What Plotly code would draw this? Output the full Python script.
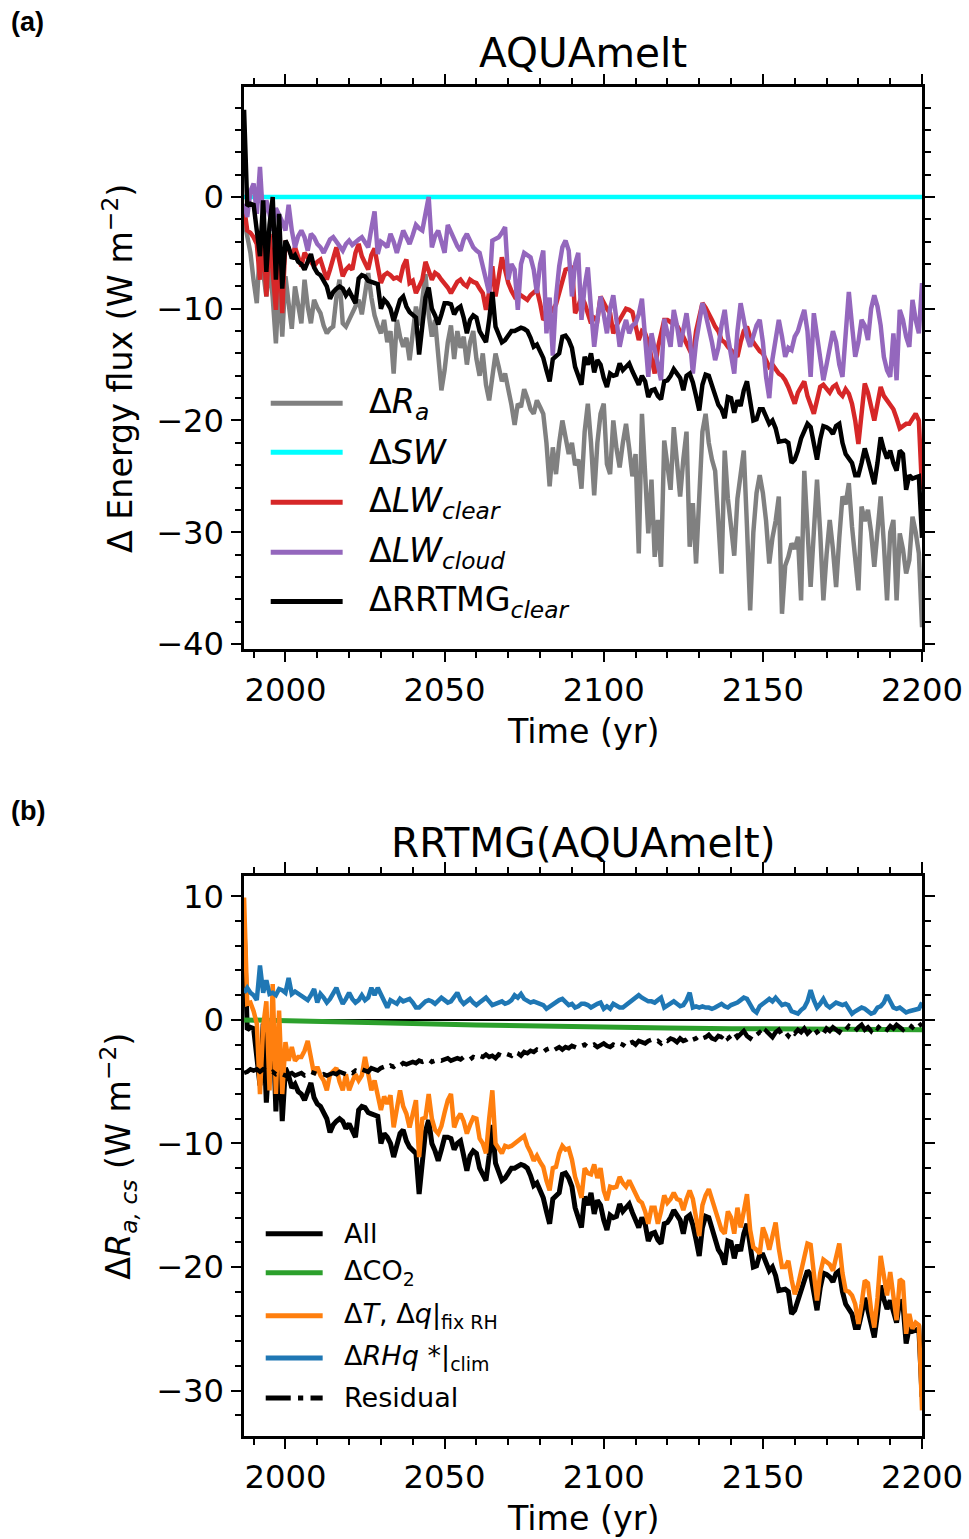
import plotly.graph_objects as go

# ---------------------------------------------------------------- data
years = list(range(1987, 2201))

# panel (a): AQUAmelt energy-flux anomalies (W m-2)
delta_ra = [
    -2.0, -3.5, -5.0,
    -7.5, -9.5, -4.5, -7.0, -8.9, -6.0, -9.0, -13.1, -7.5, -12.5,
    -7.1, -9.5, -11.8, -8.0, -9.6, -11.3, -7.4, -9.8, -11.3, -9.2,
    -9.9, -10.4, -11.5, -12.2, -11.8, -11.6, -9.0, -7.4, -11.3, -11.6,
    -11.0, -10.4, -9.8, -9.2, -10.5, -8.5, -6.8, -9.0, -10.6, -11.5,
    -12.2, -11.0, -13.0, -12.0, -15.8, -11.0, -12.5, -13.4, -12.6, -14.6,
    -12.0, -9.8, -11.5, -9.0, -6.9, -10.5, -12.5, -11.0, -14.5, -17.3,
    -15.5, -13.0, -11.5, -14.5, -12.0, -13.5, -12.5, -15.0, -13.0, -12.0,
    -14.5, -16.0, -14.0, -16.8, -18.2, -16.4, -14.0, -15.2, -16.5, -15.8,
    -17.0, -18.6, -20.4, -18.5, -18.8, -17.2, -18.0, -19.0, -19.4, -18.2,
    -18.8, -19.4, -22.0, -25.9, -22.4, -24.8, -22.0, -20.0, -21.5, -23.0,
    -22.0, -24.0, -23.5, -26.1, -21.0, -18.5, -22.0, -26.7, -22.0, -19.4,
    -18.5, -23.9, -24.8, -20.0, -22.5, -24.2, -22.0, -20.3, -22.5, -25.0,
    -23.0, -31.9, -19.4, -24.0, -30.1, -25.3, -32.2, -28.9, -33.1, -21.8,
    -24.0, -26.2, -20.6, -23.5, -26.8, -23.5, -21.0, -31.3, -27.4, -32.8,
    -26.0, -21.0, -19.4, -22.0, -23.5, -24.5, -29.0, -33.7, -22.7, -27.0,
    -29.5, -32.1, -27.0, -24.5, -22.7, -29.5, -37.0, -30.0, -26.5, -24.9,
    -26.5, -29.0, -32.8, -30.5, -29.0, -26.8, -37.3, -33.0, -32.2, -31.0,
    -31.5, -30.4, -36.1, -24.5, -29.0, -34.9, -30.0, -25.3, -30.0, -36.1,
    -32.0, -28.9, -31.5, -34.9, -30.5, -26.8, -27.5, -25.6, -29.5, -32.0,
    -35.2, -27.7, -29.0, -28.0, -30.0, -33.1, -29.5, -26.8, -31.0, -36.1,
    -30.0, -28.9, -36.1, -30.1, -31.5, -33.7, -32.5, -28.6, -30.0, -31.9,
    -38.5,
]

sw_years = [1987, 2200]
delta_sw = [0.0, 0.0]

delta_lw_clear = [
    -0.9, -3.0, -3.2,
    -3.6, -4.2, -7.4, -3.0, -8.9, -3.3, -7.0, -10.1, -3.9, -10.4,
    -3.9, -4.6, -5.3, -4.5, -5.5, -6.2, -5.0, -5.4, -5.9, -6.2,
    -5.8, -5.6, -6.5, -7.4, -6.5, -5.5, -4.5, -5.8, -7.1, -6.5,
    -6.2, -6.5, -5.0, -4.2, -5.3, -5.9, -6.5, -5.2, -4.6, -6.2,
    -7.7, -7.0, -6.8, -7.0, -7.3, -7.2, -7.4, -6.2, -5.6, -7.7,
    -7.5, -8.6, -8.0, -7.4, -5.8, -6.5, -7.4, -6.8, -7.0, -7.4,
    -7.7, -8.1, -8.6, -8.0, -7.6, -7.4, -7.8, -8.0, -7.4, -7.6,
    -7.7, -8.2, -8.6, -10.1, -8.5, -6.2, -8.9, -7.2, -5.4, -6.5,
    -7.7, -8.4, -8.9, -8.6, -8.8, -9.0, -9.2, -8.8, -8.5, -8.3,
    -9.5, -11.0, -10.7, -10.4, -10.1, -9.6, -8.6, -7.5, -6.5, -6.4,
    -6.2, -10.4, -9.8, -8.9, -9.5, -10.4, -11.3, -10.8, -11.0, -8.9,
    -9.5, -10.0, -10.4, -12.2, -11.5, -11.0, -10.5, -10.0, -10.1, -10.3,
    -11.5, -12.8, -12.0, -12.2, -13.0, -14.3, -15.8, -13.5, -12.0, -11.0,
    -11.0, -11.2, -11.0, -11.6, -12.0, -12.5, -13.1, -13.6, -14.3, -12.0,
    -10.5, -9.5, -9.9, -10.4, -11.0, -11.6, -12.0, -12.8, -13.0, -13.4,
    -13.7, -14.0, -14.3, -13.0, -12.0, -11.6, -12.5, -13.0, -13.4, -13.8,
    -14.0, -14.6, -15.2, -15.0, -15.4, -15.8, -16.0, -16.4, -17.0, -17.8,
    -18.5, -17.5, -17.0, -16.5, -17.8, -18.6, -19.4, -18.2, -17.0, -16.8,
    -17.2, -17.5, -17.0, -16.8, -17.5, -17.8, -17.2, -17.6, -18.5, -20.0,
    -22.1, -19.0, -16.7, -17.5, -18.8, -20.0, -18.5, -17.0, -17.8, -18.2,
    -18.5, -19.0, -19.8, -20.7, -20.5, -20.3, -20.3, -19.8, -19.4, -20.0,
    -26.2,
]

delta_lw_cloud = [
    -0.6, -1.8, 0.5,
    1.2, -1.5, 2.7, -2.1, -0.3, -1.5, -3.0, -1.0, -1.5, -2.2,
    -3.0, -0.7, -3.0, -4.5, -3.5, -3.0, -3.6, -4.8, -3.3, -3.6,
    -4.2, -4.5, -5.0, -4.4, -3.8, -3.6, -4.0, -4.4, -4.8, -4.2,
    -3.9, -4.3, -4.0, -3.8, -3.6, -4.0, -4.5, -2.8, -1.3, -5.1,
    -4.0, -4.2, -4.5, -3.3, -4.0, -5.0, -4.0, -3.0, -3.6, -4.2,
    -3.4, -2.5, -2.8, -3.0, -1.5, 0.0, -4.5, -3.5, -3.0, -4.0,
    -5.0, -2.5, -3.2, -3.9, -4.4, -4.8, -3.8, -3.3, -3.9, -4.5,
    -4.8, -5.0, -6.2, -7.5, -8.6, -3.9, -3.8, -3.6, -3.2, -2.7,
    -7.4, -6.0, -6.5, -10.1, -6.0, -5.0, -5.2, -5.4, -6.5, -8.6,
    -6.0, -4.8, -12.2, -9.0, -14.2, -9.0, -6.2, -4.5, -3.9, -4.8,
    -8.9, -6.0, -5.0, -11.0, -8.0, -6.3, -10.0, -13.4, -11.0, -8.9,
    -10.5, -12.2, -10.0, -8.8, -11.0, -13.4, -12.0, -11.0, -12.2, -11.5,
    -11.3, -10.5, -9.1, -12.5, -16.1, -12.2, -13.5, -15.0, -16.4, -10.9,
    -12.0, -13.4, -10.1, -11.5, -13.4, -12.0, -10.4, -12.5, -15.8, -13.0,
    -11.0, -9.5, -10.5, -11.6, -13.0, -14.6, -13.5, -11.5, -10.1, -12.5,
    -14.5, -15.8, -12.0, -9.5, -11.0, -12.5, -13.4, -12.5, -11.5, -11.0,
    -13.0, -16.1, -18.0, -14.5, -12.5, -11.0, -12.5, -14.3, -13.5, -13.7,
    -12.5, -12.0, -11.0, -10.1, -12.0, -16.1, -10.4, -12.5, -14.5, -16.4,
    -15.0, -13.5, -12.0, -13.0, -15.0, -16.1, -12.0, -8.5, -11.5, -14.3,
    -13.0, -11.0, -11.5, -12.8, -10.0, -8.8, -9.8, -11.5, -14.3, -15.5,
    -16.1, -12.2, -16.4, -10.1, -11.0, -12.5, -13.4, -9.2, -11.0, -12.2,
    -7.7,
]

# clear-sky RRTMG total; shown in both panels
rrtmg_clear = [
    7.8, -0.8, -0.6,
    -0.7, -3.0, -5.3, -0.3, -6.7, -2.5, 0.0, -7.4, -1.5, -8.2,
    -3.9, -4.5, -5.5, -5.2, -5.8, -6.0, -6.5, -5.8, -5.1, -6.3,
    -6.8, -7.0, -7.5, -8.0, -9.1, -8.5, -8.2, -8.0, -8.2, -8.8,
    -8.4, -8.9, -9.5, -7.3, -7.0, -7.1, -7.5, -7.6, -7.7, -7.8,
    -10.0, -9.2, -9.5, -10.0, -11.1, -10.0, -9.2, -8.9, -9.8, -10.3,
    -10.5, -10.8, -14.1, -11.2, -9.0, -8.1, -10.0, -10.6, -11.4, -10.5,
    -9.5, -9.5, -9.6, -10.5, -10.0, -9.8, -10.8, -12.2, -11.0, -10.6,
    -10.8, -12.0, -12.5, -13.0, -11.0, -8.5, -11.6, -12.4, -13.0, -12.8,
    -12.3, -12.0, -12.0, -11.8, -11.7, -11.8, -12.0, -12.6, -13.4, -13.2,
    -13.8, -14.4, -15.5, -16.5, -14.5, -14.2, -14.0, -12.5, -12.4, -12.8,
    -13.5, -15.2, -16.0, -16.8, -14.3, -15.0, -14.0, -15.7, -14.6, -15.0,
    -16.2, -17.0, -15.8, -16.0, -15.9, -14.9, -15.5, -15.2, -14.9, -15.6,
    -16.2, -16.8, -16.0, -16.5, -17.9, -17.3, -17.2, -17.8, -18.1, -16.5,
    -16.4, -16.0, -15.4, -15.8, -16.2, -17.3, -16.0, -15.8, -16.6, -17.8,
    -19.1, -16.8, -15.9, -16.0, -16.8, -17.5, -18.6, -19.0, -19.8, -17.9,
    -18.0, -19.3, -18.2, -18.7, -17.3, -16.5, -18.5, -20.0, -19.9, -19.0,
    -19.0, -19.6, -20.3, -20.0, -20.7, -21.9, -21.8, -21.8, -22.0, -23.8,
    -23.5, -22.7, -21.6, -20.8, -20.3, -20.6, -22.0, -23.5, -21.7, -20.5,
    -20.6, -20.8, -21.2, -20.5, -20.3, -22.0, -23.0, -23.5, -23.8, -24.9,
    -24.9, -23.8, -22.5, -23.5, -24.8, -25.7, -23.8, -21.5, -22.6, -23.4,
    -22.7, -23.8, -24.5, -22.7, -23.0, -26.2, -24.9, -25.2, -25.1, -25.0,
    -30.5,
]

# panel (b): RRTMG decomposition (W m-2)
co2_years = [1987, 2000, 2020, 2040, 2060, 2080, 2100, 2120, 2140, 2160, 2180, 2200]
delta_co2 = [0.0, -0.05, -0.15, -0.3, -0.42, -0.52, -0.6, -0.66, -0.71, -0.75, -0.78, -0.8]

delta_t_q_fixrh = [
    9.9, 1.3, 1.4,
    0.7, -0.3, -6.0, -0.5, 1.5, -5.7, 2.9, -6.0, 0.75, -6.0,
    -1.8, -3.3, -2.2, -3.3, -3.0, -3.0, -2.5, -1.7, -3.0, -4.4,
    -3.8, -4.5, -4.9, -5.7, -4.4, -4.2, -3.9, -5.0, -5.7, -4.4,
    -5.7, -5.0, -4.4, -4.9, -4.5, -3.0, -4.5, -5.7, -4.9, -6.0,
    -7.3, -6.2, -6.8, -6.1, -8.7, -7.2, -5.7, -7.0, -7.6, -8.7,
    -7.4, -6.5, -11.1, -8.0, -7.9, -6.0, -8.0, -8.9, -9.2, -8.6,
    -7.5, -6.5, -6.0, -8.7, -8.0, -7.6, -8.2, -9.2, -8.5, -7.9,
    -8.0, -9.6, -10.0, -10.8, -8.0, -5.7, -10.0, -10.4, -10.8, -10.2,
    -10.3, -10.2, -10.0, -9.8, -9.6, -9.4, -10.2, -10.7, -11.4, -11.0,
    -11.5, -11.9, -13.0, -13.8, -12.0, -11.9, -10.8, -10.2, -10.5, -10.4,
    -11.3, -12.7, -13.5, -14.4, -12.0, -12.4, -12.5, -11.7, -12.8, -12.0,
    -13.8, -14.6, -13.5, -13.6, -13.5, -12.7, -13.2, -13.5, -13.0, -13.6,
    -14.0, -14.6, -14.8, -15.5, -16.5, -15.2, -15.2, -16.5, -15.5, -14.2,
    -14.8, -14.5, -14.0, -14.5, -14.6, -15.4, -14.5, -13.8, -14.5, -16.0,
    -17.5, -15.0, -14.2, -13.7, -14.5, -15.2, -16.2, -17.0, -17.3, -15.5,
    -16.0, -17.3, -15.2, -16.8, -15.5, -14.1, -17.0, -18.4, -18.6, -18.9,
    -16.8, -17.5, -18.6, -17.5, -16.4, -18.5, -20.0, -20.0, -19.5, -21.0,
    -22.2, -21.5, -20.5, -19.2, -18.1, -18.2, -20.5, -22.7, -20.5, -19.4,
    -19.6, -19.8, -20.3, -19.2, -18.1, -20.5, -21.9, -22.0, -22.3, -23.0,
    -24.6, -23.0, -21.1, -21.3, -23.5, -24.9, -22.5, -19.1, -21.0, -22.3,
    -20.4, -22.5, -24.3, -21.0, -21.2, -25.4, -23.8, -25.0, -24.5, -24.7,
    -31.6,
]

delta_rhq_clim = [
    2.2, 2.6, 2.2,
    2.0, 1.6, 4.4, 2.2, 3.2, 2.1, 2.2, 2.0, 2.5, 2.4,
    2.2, 3.4, 2.1, 2.3, 2.1, 2.0, 1.8, 1.6, 2.0, 2.5,
    1.4, 2.1, 1.8, 1.4, 1.7, 2.1, 2.6, 1.9, 1.3, 1.7,
    2.2, 1.7, 1.4, 1.6, 2.0, 1.6, 1.8, 2.6, 2.0, 2.6,
    2.0, 1.5, 1.0, 1.6, 1.4, 1.3, 1.7, 1.5, 1.6, 1.7,
    1.4, 1.0, 1.0, 1.3, 1.5, 1.6, 1.5, 1.3, 1.5, 1.8,
    1.6, 1.4, 1.5, 1.8, 2.2, 1.6, 1.3, 1.5, 1.7, 1.4,
    1.2, 1.4, 1.6, 1.8, 1.5, 1.2, 1.3, 1.4, 1.5, 1.3,
    1.4, 1.6, 2.0, 1.8, 2.1, 1.7, 1.5, 1.4, 1.5, 1.4,
    1.3, 1.2, 0.9, 1.1, 1.3, 1.5, 1.6, 1.7, 1.4, 1.2,
    1.3, 1.0, 1.1, 1.3, 1.3, 1.2, 1.0, 1.2, 1.3, 1.4,
    0.9, 1.1, 0.9, 1.3, 1.1, 1.0, 1.0, 1.2, 1.3, 1.5,
    1.7, 2.0, 1.8, 1.6, 1.5, 1.5, 1.4, 1.6, 1.8, 1.0,
    1.2, 1.3, 1.5, 1.3, 1.1, 1.2, 1.6, 2.2, 1.0, 1.1,
    1.0, 1.1, 1.0, 1.0, 0.9, 1.0, 1.2, 1.3, 1.1, 1.0,
    1.2, 1.3, 1.4, 1.6, 1.8, 1.7, 1.2, 0.8, 0.6, 1.1,
    1.3, 1.5, 1.7, 1.5, 1.8, 1.5, 1.2, 1.3, 1.2, 0.7,
    0.6, 0.5, 0.8, 1.0, 1.5, 2.4, 1.6, 1.0, 1.3, 1.7,
    1.2, 1.0, 1.2, 1.4, 1.3, 1.2, 1.3, 0.9, 0.5, 0.7,
    0.9, 1.0, 0.9, 0.7, 0.5, 0.6, 1.0, 1.1, 1.4, 2.0,
    1.5, 1.0, 0.9, 1.0, 0.8, 0.6, 0.7, 0.75, 0.8, 0.9,
    1.4,
]

residual = [
    -4.3, -4.2, -4.0,
    -4.1, -4.0, -4.2, -4.0, -4.1, -4.3, -4.2, -4.4, -4.3, -4.4,
    -4.5, -4.4, -4.3, -4.5, -4.4, -4.3, -4.5, -4.4, -4.2, -4.3,
    -4.4, -4.5, -4.4, -4.5, -4.4, -4.3, -4.4, -4.2, -4.3, -4.4,
    -4.2, -4.3, -4.1, -4.2, -4.0, -4.1, -4.2, -3.9, -4.0, -4.1,
    -3.9, -3.8, -3.9, -3.7, -3.8, -3.6, -3.7, -3.5, -3.6, -3.5,
    -3.4, -3.5, -3.3, -3.4, -3.3, -3.2, -3.4, -3.3, -3.2, -3.3,
    -3.2, -3.1, -3.3, -3.2, -3.1, -3.2, -3.0, -3.1, -3.2, -3.0,
    -3.1, -2.9, -3.0, -2.8, -3.0, -2.9, -3.1, -2.8, -2.9, -2.7,
    -2.8, -2.9, -2.6, -2.7, -2.9, -2.6, -2.7, -2.5, -2.6, -2.4,
    -2.5, -2.6, -2.4, -2.3, -2.5, -2.3, -2.2, -2.4, -2.2, -2.3,
    -2.1, -2.2, -2.3, -2.1, -2.0, -2.2, -2.1, -2.0, -2.2, -2.0,
    -1.9, -2.1, -2.2, -2.0, -2.1, -1.9, -2.0, -2.2, -1.9, -1.8,
    -2.0, -1.7, -1.8, -1.9, -1.7, -1.6, -1.8, -1.7, -1.9, -1.6,
    -1.7, -1.5, -1.6, -1.8, -1.5, -1.7, -1.6, -1.4, -1.6, -1.5,
    -1.3, -1.5, -1.4, -1.2, -1.5, -1.6, -1.3, -1.4, -1.1, -1.5,
    -1.3, -1.0, -1.4, -1.2, -0.9, -1.3, -1.5, -1.1, -1.2, -1.0,
    -1.3, -0.9, -1.1, -1.4, -1.0, -0.8, -1.2, -1.0, -1.3, -0.9,
    -1.1, -0.8, -1.0, -0.7, -1.1, -0.9, -0.6, -1.0, -0.8, -1.1,
    -0.7, -0.9, -0.6, -0.8, -1.0, -0.6, -0.8, -0.5, -0.7, -0.9,
    -0.6, -0.4, -0.8, -0.6, -0.9, -0.5, -0.7, -0.4, -0.6, -0.8,
    -0.5, -0.7, -0.4, -0.6, -0.8, -0.5, -0.4, -0.6, -0.3, -0.5,
    -0.3,
]

for series in (delta_ra, delta_lw_clear, delta_lw_cloud, rrtmg_clear,
               delta_t_q_fixrh, delta_rhq_clim, residual):
    assert len(series) == len(years), len(series)

# ---------------------------------------------------------------- layout helpers
# positions are worked out on a 969 x 1539 design grid; the figure canvas
# itself is sized by FIG_W x FIG_H and everything scales with it
DW, DH = 969, 1539
FIG_W, FIG_H = 1009, 1554
K = FIG_W / DW                      # size factor for fonts, lines, ticks
FONT = "DejaVu Sans"


def fx(px):
    return px / DW


def fy(py):
    return 1 - py / DH


def s(v):
    return v * K


LW = s(4.3)
RESIDUAL_DASH = f"{s(24):.1f}px,{s(7):.1f}px,{s(5):.1f}px,{s(7):.1f}px"

X_RANGE = [1986.9, 2200]
PANEL_X = [fx(244), fx(923)]
PANEL_A_Y = [fy(648.7), fy(87.3)]
PANEL_B_Y = [fy(1435), fy(875)]

axis_style = dict(
    showline=True, linecolor="black", linewidth=s(2.5), mirror="allticks",
    ticks="outside", ticklen=s(10), tickwidth=s(2), tickcolor="black",
    showgrid=False, zeroline=False,
    tickfont=dict(family=FONT, size=s(31), color="black"),
)
minor_x = dict(ticks="outside", ticklen=s(6), tickwidth=s(1.5), tickcolor="black", dtick=10)
minor_y = dict(ticks="outside", ticklen=s(6), tickwidth=s(1.5), tickcolor="black", dtick=2)

fig = go.Figure()

# ---------------------------------------------------------------- panel (a)
panel_a = [
    ("ΔR_a", years, delta_ra, "#808080"),
    ("ΔSW", sw_years, delta_sw, "#00ffff"),
    ("ΔLW_clear", years, delta_lw_clear, "#d62728"),
    ("ΔLW_cloud", years, delta_lw_cloud, "#9467bd"),
    ("ΔRRTMG_clear", years, rrtmg_clear, "#000000"),
]
for name, xs, ys, color in panel_a:
    fig.add_trace(go.Scatter(x=xs, y=ys, mode="lines", name=name,
                             line=dict(color=color, width=LW),
                             xaxis="x", yaxis="y", showlegend=False))

# ---------------------------------------------------------------- panel (b)
panel_b = [
    ("All", years, rrtmg_clear, "#000000", "solid", s(4.8)),
    ("ΔCO2", co2_years, delta_co2, "#2ca02c", "solid", s(4.8)),
    ("ΔT, Δq|fix RH", years, delta_t_q_fixrh, "#ff7f0e", "solid", LW),
    ("ΔRHq*|clim", years, delta_rhq_clim, "#1f77b4", "solid", LW),
    ("Residual", years, residual, "#000000", RESIDUAL_DASH, LW),
]
for name, xs, ys, color, dash, width in panel_b:
    fig.add_trace(go.Scatter(x=xs, y=ys, mode="lines", name=name,
                             line=dict(color=color, width=width, dash=dash),
                             xaxis="x2", yaxis="y2", showlegend=False))

fig.update_layout(
    width=FIG_W, height=FIG_H, margin=dict(l=0, r=0, t=0, b=0),
    paper_bgcolor="white", plot_bgcolor="white",
    font=dict(family=FONT, color="black"),
    xaxis=dict(domain=PANEL_X, anchor="y", range=X_RANGE, tick0=2000, dtick=50,
               minor=minor_x, **axis_style),
    yaxis=dict(domain=PANEL_A_Y, anchor="x", range=[-40.46, 9.81], tick0=0, dtick=10,
               minor=minor_y, **axis_style),
    xaxis2=dict(domain=PANEL_X, anchor="y2", range=X_RANGE, tick0=2000, dtick=50,
                minor=minor_x, **axis_style),
    yaxis2=dict(domain=PANEL_B_Y, anchor="x2", range=[-33.67, 11.68], tick0=0, dtick=10,
                minor=minor_y, **{**axis_style, "zeroline": True},
                zerolinecolor="black", zerolinewidth=s(1.5)),
)

annotations = []
shapes = []


def text(x, y, label, size, xanchor="center", yanchor="middle", angle=0, family=FONT):
    annotations.append(dict(x=fx(x), y=fy(y), xref="paper", yref="paper", text=label,
                            showarrow=False, xanchor=xanchor, yanchor=yanchor,
                            textangle=angle, font=dict(family=family, size=s(size), color="black")))


# titles, axis labels, panel letters
text(584, 53, "AQUAmelt", 39)
text(584, 842, "RRTMG(AQUAmelt)", 39)
text(584, 731, "Time (yr)", 32)
text(584, 1518, "Time (yr)", 32)
text(118, 368, "Δ Energy flux (W m<sup>−2</sup>)", 32, angle=-90)
text(118, 1155, "Δ<i>R</i><sub><i>a, cs</i></sub> (W m<sup>−2</sup>)", 32, angle=-90)
text(9, 21, "<b>(a)</b>", 26, xanchor="left", family="Liberation Sans")
text(9, 810, "<b>(b)</b>", 26, xanchor="left", family="Liberation Sans")

# legend, panel (a)
legend_a = [
    ("Δ<i>R</i><sub><i>a</i></sub>", "#808080", "solid", 403),
    ("Δ<i>SW</i>", "#00ffff", "solid", 452),
    ("Δ<i>LW</i><sub><i>clear</i></sub>", "#d62728", "solid", 502),
    ("Δ<i>LW</i><sub><i>cloud</i></sub>", "#9467bd", "solid", 552),
    ("ΔRRTMG<sub><i>clear</i></sub>", "#000000", "solid", 601),
]
for label, color, dash, y in legend_a:
    shapes.append(dict(type="line", xref="paper", yref="paper",
                       x0=fx(271), x1=fx(343), y0=fy(y), y1=fy(y),
                       line=dict(color=color, width=s(4.8), dash=dash)))
    text(367, y, label, 32, xanchor="left")

# legend, panel (b)
legend_b = [
    ("All", "#000000", "solid", 1233),
    ("ΔCO<sub>2</sub>", "#2ca02c", "solid", 1272),
    ("Δ<i>T</i>, Δ<i>q</i>|<sub>fix RH</sub>", "#ff7f0e", "solid", 1315),
    ("Δ<i>RHq</i> *|<sub>clim</sub>", "#1f77b4", "solid", 1357),
    ("Residual", "#000000", RESIDUAL_DASH, 1397),
]
for label, color, dash, y in legend_b:
    shapes.append(dict(type="line", xref="paper", yref="paper",
                       x0=fx(266), x1=fx(323), y0=fy(y), y1=fy(y),
                       line=dict(color=color, width=s(4.8), dash=dash)))
    text(342, y, label, 26, xanchor="left")

fig.update_layout(annotations=annotations, shapes=shapes)
fig.write_html("out.html")
